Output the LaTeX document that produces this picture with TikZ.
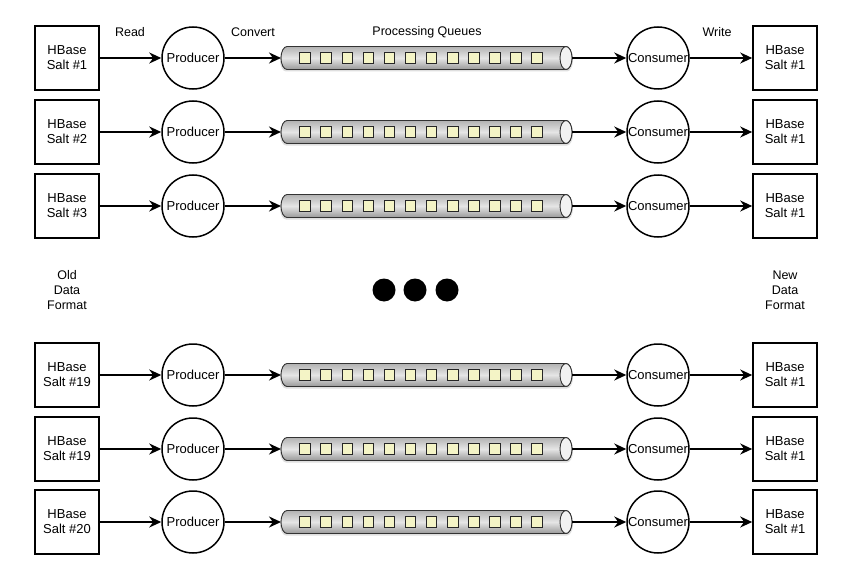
\documentclass[tikz,border=0pt]{standalone}
\usepackage{fontspec}
\setmainfont{Liberation Sans}
\usetikzlibrary{arrows.meta}
\definecolor{cellfill}{HTML}{F4F4C6}
\tikzset{
  lbl/.style={font=\fontsize{12.5}{15}\selectfont, align=center, inner sep=0pt},
  hbox/.style={draw, line width=1.6pt, minimum width=64pt, minimum height=64pt, inner sep=0pt, font=\fontsize{13}{15}\selectfont, align=center, fill=white},
  proc/.style={draw, circle, line width=1.5pt, minimum size=62pt, inner sep=0pt, font=\fontsize{13}{15}\selectfont, fill=white},
  conn/.style={line width=1.8pt, -{Stealth[length=12pt,width=11pt]}},
  tubebody/.style={draw=black!80, line width=0.9pt, top color=gray!60, bottom color=gray!80, middle color=gray!20},
  tubecap/.style={draw=black!80, line width=0.9pt, fill=gray!10},
  cell/.style={draw=black!85, line width=0.8pt, fill=cellfill, minimum size=10.5pt, inner sep=0pt},
  bigdot/.style={circle, fill=black, minimum size=23pt, inner sep=0pt}
}
\begin{document}
\begin{tikzpicture}[x=1pt, y=-1pt]
\useasboundingbox (0,0) rectangle (848,575);
\fill[white] (0,0) rectangle (848,575);
% header labels
\node[lbl] (lread) at (130,32) {Read};
\node[lbl] (lconv) at (253,32) {Convert};
\node[lbl] (lpq) at (427,32) {Processing Queues};
\node[lbl] (lwrite) at (717,32) {Write};
% side labels
\node[lbl] (old) at (67,290) {Old\\Data\\Format};
\node[lbl] (new) at (785,290) {New\\Data\\Format};
% dots
\node[bigdot] (d1) at (384,290) {};
\node[bigdot] (d2) at (415,290) {};
\node[bigdot] (d3) at (447,290) {};
% rows
\foreach \y/\r/\s in {58/1/1, 132/2/2, 206/3/3, 375/4/19, 449/5/19, 522/6/20} {
  \node[hbox] (src\r) at (67,\y) {HBase\\Salt \#\s};
  \node[proc] (prod\r) at (193,\y) {Producer};
  \node[proc] (cons\r) at (658,\y) {Consumer};
  \node[hbox] (dst\r) at (785,\y) {HBase\\Salt \#1};
  % tube shadow
  \fill[gray!25] (567,\y-9.5) -- (286,\y-9.5) arc[start angle=90, end angle=270, x radius=6pt, y radius=11.5pt] -- (567,\y+13.5) arc[start angle=-90, end angle=90, x radius=6pt, y radius=11.5pt] -- cycle;
  % tube body
  \draw[tubebody] (566,\y-11.5) -- (287,\y-11.5) arc[start angle=90, end angle=270, x radius=6pt, y radius=11.5pt] -- (566,\y+11.5) arc[start angle=-90, end angle=90, x radius=6pt, y radius=11.5pt] -- cycle;
  \draw[tubecap] (566,\y) ellipse[x radius=6pt, y radius=11.5pt];
  \coordinate (tl\r) at (281,\y);
  \coordinate (tr\r) at (572,\y);
  \foreach \k in {0,...,11} {
    \node[cell] (c\r-\k) at (305+21.1*\k,\y) {};
  }
  \draw[conn] (src\r) -- (prod\r);
  \draw[conn] (prod\r) -- (tl\r);
  \draw[conn] (tr\r) -- (cons\r);
  \draw[conn] (cons\r) -- (dst\r);
}
\end{tikzpicture}
\end{document}
